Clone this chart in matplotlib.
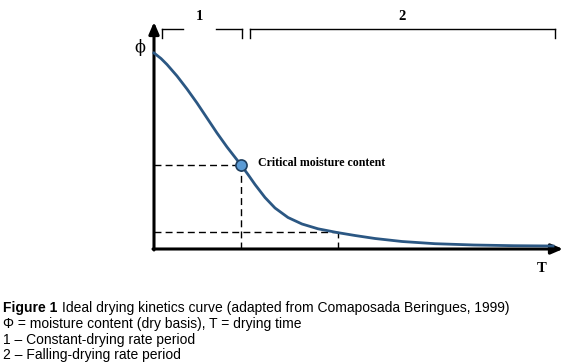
import matplotlib
matplotlib.use("Agg")
import matplotlib.pyplot as plt

# curve (T = drying time, phi = moisture content), arbitrary units
time_vals = [0, 7, 13, 23, 33, 43, 53, 63, 73, 80, 87, 94, 101, 111, 121, 134, 148,
             164, 183, 201, 221, 248, 281, 320, 360, 399]
phi_vals = [196, 190.5, 184.5, 173, 160, 146, 131, 116, 102, 93, 84, 74.5, 64.5, 51.5, 41,
            31.5, 25, 20.2, 16.5, 13.5, 10.5, 7.5, 5.3, 4, 3.3, 3]

critical_t, critical_phi = 87, 84.5
later_t, later_phi = 184, 17.5

# period brackets: (start, end, label)
periods = [(8, 88, "1"), (96, 401, "2")]

caption_title = "Ideal drying kinetics curve (adapted from Comaposada Beringues, 1999)"
caption_lines = ["\u03a6 = moisture content (dry basis), T = drying time",
                 "1 \u2013 Constant-drying rate period",
                 "2 \u2013 Falling-drying rate period"]

W, H = 567, 364
fig = plt.figure(figsize=(W / 100, H / 100), dpi=100)
x0, y0, x1, y1 = 154, 249, 563, 22   # pixel box of the plot area
ax = fig.add_axes([x0 / W, 1 - y0 / H, (x1 - x0) / W, (y0 - y1) / H])
ax.set_xlim(0, x1 - x0)
ax.set_ylim(0, y0 - y1)
ax.axis("off")

# axes with arrows
arrow = dict(arrowstyle="-|>,head_length=0.7,head_width=0.3", color="black", lw=2.2,
             shrinkA=0, shrinkB=0)
ax.annotate("", xy=(0, y0 - y1), xytext=(0, -1), arrowprops=arrow, annotation_clip=False)
ax.annotate("", xy=(x1 - x0, 0), xytext=(-1, 0), arrowprops=arrow, annotation_clip=False)

# dashed guide lines
dash = dict(color="black", lw=1.0, linestyle=(0, (5, 3)), clip_on=False)
ax.plot([0, critical_t], [critical_phi, critical_phi], **dash)
ax.plot([critical_t, critical_t], [0, critical_phi], **dash)
ax.plot([0, later_t], [later_phi, later_phi], **dash)
ax.plot([later_t, later_t], [0, later_phi], **dash)

# drying curve
ax.plot(time_vals, phi_vals, color="#2B5783", lw=2.0, clip_on=False, zorder=3,
        solid_joinstyle="round")
ax.plot([critical_t], [critical_phi], "o", ms=8, mfc="#5B9BD5", mec="#1F3F5F",
        mew=1.2, clip_on=False, zorder=4)
ax.text(critical_t + 17, critical_phi + 1.5, "Critical moisture content",
        family="Liberation Serif", weight="bold", fontsize=8.6, va="center", ha="left")

# brackets for the two periods
top, tick = 220, 9
for i, (a, b, lab) in enumerate(periods):
    ax.plot([a, a], [top - tick, top], color="black", lw=1, clip_on=False)
    ax.plot([b, b], [top - tick, top], color="black", lw=1, clip_on=False)
    if i == 0:
        ax.plot([a, 29], [top, top], color="black", lw=1, clip_on=False)
        ax.plot([62, b], [top, top], color="black", lw=1, clip_on=False)
    else:
        ax.plot([a, b], [top, top], color="black", lw=1, clip_on=False)
    ax.text((a + b) / 2 if i else 45, top + 13, lab, family="Liberation Serif",
            weight="bold", fontsize=10.5, ha="center", va="center")

ax.text(-14, 202, "\u03d5", family="DejaVu Serif", fontsize=11.5, ha="center", va="center")
ax.text(388, -19, "T", family="Liberation Serif", weight="bold", fontsize=10.5,
        ha="center", va="center")

# caption
fig.text(3 / W, 1 - 308 / H, "Figure 1", family="Liberation Sans", weight="bold",
         fontsize=10, va="center")
fig.text(62 / W, 1 - 308 / H, caption_title, family="Liberation Sans", fontsize=10,
         va="center")
for k, line in enumerate(caption_lines):
    fig.text(3 / W, 1 - (324 + 15.7 * k) / H, line, family="Liberation Sans",
             fontsize=10, va="center")

fig.savefig("out.png", dpi=100)
